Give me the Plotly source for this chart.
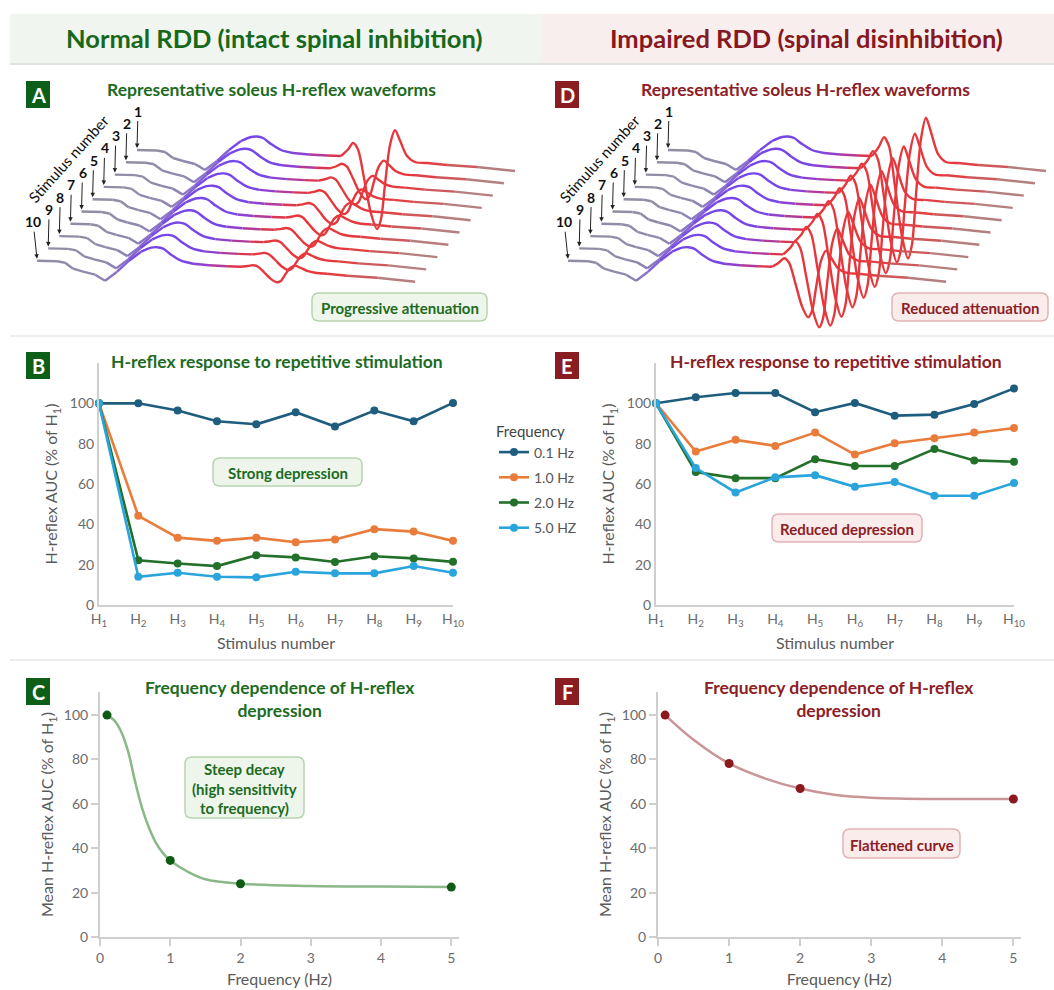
import plotly.graph_objects as go

W, H = 1054, 990
FONT = "Lato"

# ------------------------------------------------------------------ data
STIM_IDX = list(range(1, 11))
STIM_TICKS = ["H<sub>%d</sub>" % i for i in STIM_IDX]
FREQ_NAMES = ["0.1 Hz", "1.0 Hz", "2.0 Hz", "5.0 HZ"]

B_01 = [100, 100, 96.4, 91.1, 89.6, 95.6, 88.5, 96.4, 91.1, 100.2]
B_10 = [100, 44.2, 33.4, 31.8, 33.4, 31.1, 32.5, 37.6, 36.4, 31.8]
B_20 = [100, 22.2, 20.6, 19.3, 24.7, 23.6, 21.3, 24.2, 23.1, 21.4]
B_50 = [100, 14.0, 16.0, 14.0, 13.7, 16.5, 15.7, 15.7, 19.3, 16.0]

E_01 = [100, 103.0, 105.1, 105.1, 95.6, 100.2, 93.9, 94.4, 99.7, 107.4]
E_10 = [100, 76.1, 81.9, 78.9, 85.5, 74.6, 80.2, 82.7, 85.5, 87.8]
E_20 = [100, 65.9, 62.9, 62.9, 72.3, 68.9, 68.9, 77.3, 71.7, 71.0]
E_50 = [100, 67.9, 55.8, 63.3, 64.4, 58.6, 61.0, 54.2, 54.2, 60.5]

FREQ_HZ = [0.1, 1, 2, 5]
C_MEAN = [100, 34.5, 24.0, 22.5]
F_MEAN = [100, 78.2, 66.9, 62.2]
C_FIT_X = [0.1, 0.2, 0.3, 0.4, 0.5, 0.6, 0.7, 0.8, 0.9, 1.0, 1.25, 1.5, 2, 3, 4, 5]
C_FIT_Y = [100, 97.7, 92.6, 83.6, 70, 58, 49, 42.2, 37.7, 34.5, 29.4, 26, 24, 23, 22.7, 22.5]
F_FIT_X = [0.1, 0.5, 1, 1.5, 2, 2.5, 3, 4, 5]
F_FIT_Y = [100, 88.9, 78.2, 71.5, 66.9, 64, 62.8, 62.2, 62.2]

# representative waveform (sample time, baseline+M-wave deflection, H-wave deflection)
WAVE_T = [0, 20, 28, 36, 46, 58, 68, 80, 92, 104, 114, 120, 126, 134, 144, 156, 172, 190,
          204, 211, 216, 221, 227, 234, 240, 244, 248, 253, 258, 263, 270, 278, 290, 310, 340, 378]
WAVE_M = [0, -0.5, -2, -8, -11, -14, -20, -11, 0, 9, 13, 13.5, 12, 6, 0, -3, -4.5, -5.5,
          -6, -6.5, -7, -7.5, -8, -8.5, -9, -9.2, -9.5, -10, -10.3, -10.6, -11, -12, -13, -15, -17, -21]
WAVE_H = [0] * 18 + [0, 7, 14, 8, -20, -55, -70, -60, -25, 15, 30, 20, 5, 0, 0, 0, 0, 0]
# H-wave size for stimulus 1..10
H_SCALE_A = [1.0, 0.4, 0.3, 0.26, 0.23, 0.21, 0.2, 0.19, 0.18, 0.18]
H_SCALE_D = [1.42, 1.3, 1.28, 1.3, 1.28, 1.24, 1.2, 1.15, 1.0, 0.68]

# ------------------------------------------------------------------ helpers
GREEN_D = "#0c5e18"
GREEN_T = "#1d6b1f"
RED_D = "#8a1d22"
RED_T = "#8b2026"
GRAY_TXT = "#6b6b6b"
AX_LINE = "#cfcfcf"


def px(x):
    return x / W


def py(y):
    return 1 - y / H


STOPS = [(0, "#928ea2"), (60, "#8e88ac"), (80, "#8a70cc"), (100, "#7646e6"), (150, "#7646e6"),
         (172, "#9b3cc4"), (195, "#d43758"), (205, "#e6383c"), (290, "#e6383c"), (330, "#c95e5e"),
         (378, "#a89595")]


def _rgb(h):
    return tuple(int(h[i:i + 2], 16) for i in (1, 3, 5))


def color_at(t):
    for (t0, c0), (t1, c1) in zip(STOPS[:-1], STOPS[1:]):
        if t0 <= t <= t1:
            f = (t - t0) / (t1 - t0)
            a, b = _rgb(c0), _rgb(c1)
            return "#%02x%02x%02x" % tuple(round(a[i] + (b[i] - a[i]) * f) for i in range(3))
    return STOPS[-1][1]


fig = go.Figure()

DXK, DYK = -11.1, 12.3  # waterfall offset per stimulus (px)


def add_waterfall(h_scale, x0, y0, xa, ya):
    groups = {}
    for k, hs in enumerate(h_scale):
        xs = [x0 + DXK * k + t for t in WAVE_T]
        ys = [y0 + DYK * k - (m + hs * hh) for m, hh in zip(WAVE_M, WAVE_H)]
        run = None
        for i in range(len(xs) - 1):
            c = color_at((WAVE_T[i] + WAVE_T[i + 1]) / 2)
            g = groups.setdefault(c, ([], []))
            if c != run:
                if g[0]:
                    g[0].append(None)
                    g[1].append(None)
                g[0].extend([xs[i], xs[i + 1]])
                g[1].extend([ys[i], ys[i + 1]])
                run = c
            else:
                g[0].append(xs[i + 1])
                g[1].append(ys[i + 1])
    for c, (gx, gy) in groups.items():
        fig.add_trace(go.Scatter(x=gx, y=gy, mode="lines", xaxis=xa, yaxis=ya,
                                 line=dict(color=c, width=2.4, shape="spline", smoothing=0.8),
                                 showlegend=False, hoverinfo="skip", connectgaps=False))


add_waterfall(H_SCALE_A, 137, 150, "x", "y")
add_waterfall(H_SCALE_D, 668, 150, "x2", "y2")

SER_COLORS = ["#1f5d7f", "#e97c3a", "#22702a", "#2aa4dd"]
for i, (yb, ye) in enumerate(zip([B_01, B_10, B_20, B_50], [E_01, E_10, E_20, E_50])):
    fig.add_trace(go.Scatter(x=STIM_IDX, y=yb, mode="lines+markers", name=FREQ_NAMES[i],
                             legendgroup=FREQ_NAMES[i], xaxis="x3", yaxis="y3", cliponaxis=False,
                             line=dict(color=SER_COLORS[i], width=2.6),
                             marker=dict(size=8, color=SER_COLORS[i])))
    fig.add_trace(go.Scatter(x=STIM_IDX, y=ye, mode="lines+markers", name=FREQ_NAMES[i],
                             legendgroup=FREQ_NAMES[i], showlegend=False, xaxis="x4", yaxis="y4",
                             cliponaxis=False, line=dict(color=SER_COLORS[i], width=2.6),
                             marker=dict(size=8, color=SER_COLORS[i])))

fig.add_trace(go.Scatter(x=C_FIT_X, y=C_FIT_Y, mode="lines", xaxis="x5", yaxis="y5", showlegend=False,
                         line=dict(color="#8ab886", width=2.5, shape="spline"), hoverinfo="skip"))
fig.add_trace(go.Scatter(x=FREQ_HZ, y=C_MEAN, mode="markers", xaxis="x5", yaxis="y5", showlegend=False,
                         cliponaxis=False, marker=dict(size=9, color="#0f5a14")))
fig.add_trace(go.Scatter(x=F_FIT_X, y=F_FIT_Y, mode="lines", xaxis="x6", yaxis="y6", showlegend=False,
                         line=dict(color="#c99597", width=2.5, shape="spline"), hoverinfo="skip"))
fig.add_trace(go.Scatter(x=FREQ_HZ, y=F_MEAN, mode="markers", xaxis="x6", yaxis="y6", showlegend=False,
                         cliponaxis=False, marker=dict(size=9, color="#8a1a1e")))

# ------------------------------------------------------------------ axes
hidden = dict(visible=False, fixedrange=True)
tickf = dict(family=FONT, size=14, color=GRAY_TXT)
titf = dict(family=FONT, size=16, color="#5a5a5a")


def line_axis(**kw):
    d = dict(showline=True, linecolor=AX_LINE, linewidth=2, showgrid=False, zeroline=False,
             tickfont=tickf, fixedrange=True)
    d.update(kw)
    return d


fig.update_layout(
    xaxis=dict(domain=[0, px(530)], range=[0, 530], **hidden),
    yaxis=dict(domain=[py(335), py(65)], range=[335, 65], **hidden),
    xaxis2=dict(domain=[px(531), 1], range=[531, 1054], **hidden),
    yaxis2=dict(domain=[py(335), py(65)], range=[335, 65], **hidden),
    xaxis3=line_axis(domain=[px(99), px(453)], range=[1, 10], tickvals=STIM_IDX, ticktext=STIM_TICKS,
                     ticks="", anchor="y3",
                     title=dict(text="Stimulus number", font=titf, standoff=10)),
    yaxis3=line_axis(domain=[py(605), py(363)], range=[0, 120], tickvals=[0, 20, 40, 60, 80, 100],
                     ticks="", anchor="x3",
                     title=dict(text="H-reflex AUC (% of H<sub>1</sub>)", font=titf, standoff=8)),
    xaxis4=line_axis(domain=[px(656), px(1014)], range=[1, 10], tickvals=STIM_IDX, ticktext=STIM_TICKS,
                     ticks="", anchor="y4",
                     title=dict(text="Stimulus number", font=titf, standoff=10)),
    yaxis4=line_axis(domain=[py(605), py(363)], range=[0, 120], tickvals=[0, 20, 40, 60, 80, 100],
                     ticks="", anchor="x4",
                     title=dict(text="H-reflex AUC (% of H<sub>1</sub>)", font=titf, standoff=8)),
    xaxis5=line_axis(domain=[px(100), px(459)], range=[0, 5.11], tickvals=[0, 1, 2, 3, 4, 5],
                     ticks="outside", ticklen=7, tickwidth=2, tickcolor=AX_LINE, anchor="y5",
                     title=dict(text="Frequency (Hz)", font=titf, standoff=9)),
    yaxis5=line_axis(domain=[py(937), py(692)], range=[0, 110.4], tickvals=[0, 20, 40, 60, 80, 100],
                     ticks="outside", ticklen=7, tickwidth=2, tickcolor=AX_LINE, anchor="x5",
                     title=dict(text="Mean H-reflex AUC (% of H<sub>1</sub>)", font=titf, standoff=6)),
    xaxis6=line_axis(domain=[px(658), px(1020.5)], range=[0, 5.1], tickvals=[0, 1, 2, 3, 4, 5],
                     ticks="outside", ticklen=7, tickwidth=2, tickcolor=AX_LINE, anchor="y6",
                     title=dict(text="Frequency (Hz)", font=titf, standoff=9)),
    yaxis6=line_axis(domain=[py(937), py(692)], range=[0, 110.4], tickvals=[0, 20, 40, 60, 80, 100],
                     ticks="outside", ticklen=7, tickwidth=2, tickcolor=AX_LINE, anchor="x6",
                     title=dict(text="Mean H-reflex AUC (% of H<sub>1</sub>)", font=titf, standoff=6)),
)

# ------------------------------------------------------------------ shapes & annotations
shapes = []
ann = []


def rect(x0, y0, x1, y1, fill, line=None, lw=0, layer="below"):
    shapes.append(dict(type="rect", xref="paper", yref="paper", x0=px(x0), x1=px(x1), y0=py(y1), y1=py(y0),
                       fillcolor=fill, line=dict(color=line or fill, width=lw), layer=layer))


def hline(y, x0, x1, color, w):
    shapes.append(dict(type="line", xref="paper", yref="paper", x0=px(x0), x1=px(x1), y0=py(y), y1=py(y),
                       line=dict(color=color, width=w), layer="below"))


def rrect(x0, y0, x1, y1, r, fill, line):
    pts = ("M {a},{b} L {c},{b} Q {x1},{b} {x1},{d} L {x1},{e} Q {x1},{f} {c},{f} "
           "L {a},{f} Q {x0},{f} {x0},{e} L {x0},{d} Q {x0},{b} {a},{b} Z")
    path = pts.format(a=px(x0 + r), c=px(x1 - r), b=py(y0), d=py(y0 + r), e=py(y1 - r), f=py(y1),
                      x0=px(x0), x1=px(x1))
    shapes.append(dict(type="path", xref="paper", yref="paper", path=path, fillcolor=fill,
                       line=dict(color=line, width=1.5), layer="above"))


def text(x, y, s, size, color, bold=False, angle=0):
    ann.append(dict(x=px(x), y=py(y), xref="paper", yref="paper", text=("<b>%s</b>" % s) if bold else s,
                    showarrow=False, xanchor="center", yanchor="middle", textangle=angle, align="center",
                    font=dict(family=FONT, size=size, color=color)))


# header
rect(10, 14, 541, 63, "#f0f6ef")
rect(541, 14, 1054, 63, "#f9eeee")
hline(64, 10, 1054, "#e2e2e2", 2)
hline(336, 10, 1054, "#ececec", 2)
hline(660, 10, 1054, "#ececec", 2)
text(274, 38, "Normal RDD (intact spinal inhibition)", 25.5, "#17681a", bold=True)
text(806, 38, "Impaired RDD (spinal disinhibition)", 25.5, "#86191f", bold=True)

# panel letters
for letter, (x0, y0), col in [("A", (26, 81), GREEN_D), ("B", (26, 352), GREEN_D), ("C", (26, 678), GREEN_D),
                              ("D", (555, 81), RED_D), ("E", (555, 352), RED_D), ("F", (555, 678), RED_D)]:
    rect(x0, y0, x0 + 24, y0 + 27, col, layer="above")
    text(x0 + 12, y0 + 14, letter, 20, "white", bold=True)

# panel titles
TS = 17.5
text(271, 89, "Representative soleus H-reflex waveforms", TS, GREEN_T, bold=True)
text(805, 89, "Representative soleus H-reflex waveforms", TS, RED_T, bold=True)
text(277, 361, "H-reflex response to repetitive stimulation", TS, GREEN_T, bold=True)
text(836, 361, "H-reflex response to repetitive stimulation", TS, RED_T, bold=True)
text(280, 699, "Frequency dependence of H-reflex<br>depression", TS, GREEN_T, bold=True)
text(839, 699, "Frequency dependence of H-reflex<br>depression", TS, RED_T, bold=True)

# stimulus-number labels on waveforms
for xa, ya, x0 in [("x", "y", 137), ("x2", "y2", 668)]:
    for k in range(10):
        ann.append(dict(x=x0 + DXK * k, y=150 + DYK * k - 1, xref=xa, yref=ya, text="<b>%d</b>" % (k + 1),
                        showarrow=True, arrowhead=2, arrowsize=0.9, arrowwidth=1, arrowcolor="#222",
                        ax=-4 if k == 9 else 1, ay=-38, standoff=1,
                        font=dict(family=FONT, size=14, color="#111")))
    text(x0 - 69, 159, "Stimulus number", 15, "#111", angle=-48)

# note boxes
G_FILL, G_LINE = "#eef5eb", "#b8d4b1"
R_FILL, R_LINE = "#fbecec", "#e2b3b5"
for (x0, y0, x1, y1), s, fill, line, col in [
    ((312, 293, 487, 321), "Progressive attenuation", G_FILL, G_LINE, GREEN_T),
    ((892, 293, 1048, 321), "Reduced attenuation", R_FILL, R_LINE, RED_T),
    ((213, 458, 362, 486), "Strong depression", G_FILL, G_LINE, GREEN_T),
    ((772, 514, 922, 542), "Reduced depression", R_FILL, R_LINE, RED_T),
    ((185, 757, 304, 818), "Steep decay<br>(high sensitivity<br>to frequency)", G_FILL, G_LINE, GREEN_T),
    ((843, 829, 960, 858), "Flattened curve", R_FILL, R_LINE, RED_T),
]:
    rrect(x0, y0, x1, y1, 7, fill, line)
    text((x0 + x1) / 2, (y0 + y1) / 2 + 1, s, 15, col, bold=True)

fig.update_layout(
    width=W, height=H, margin=dict(l=0, r=0, t=0, b=0),
    paper_bgcolor="white", plot_bgcolor="white", template="none",
    font=dict(family=FONT, size=14, color="#444"),
    shapes=shapes, annotations=ann,
    legend=dict(x=px(494), y=py(417), xanchor="left", yanchor="top", bgcolor="rgba(0,0,0,0)",
                title=dict(text="Frequency", font=dict(family=FONT, size=15, color="#444")),
                font=dict(family=FONT, size=14, color="#555"), tracegroupgap=4, itemwidth=30),
    hovermode=False,
)

fig.write_html("out.html", config={"displayModeBar": False, "staticPlot": True},
               post_script="document.body.style.margin='0';document.body.style.padding='0';")
